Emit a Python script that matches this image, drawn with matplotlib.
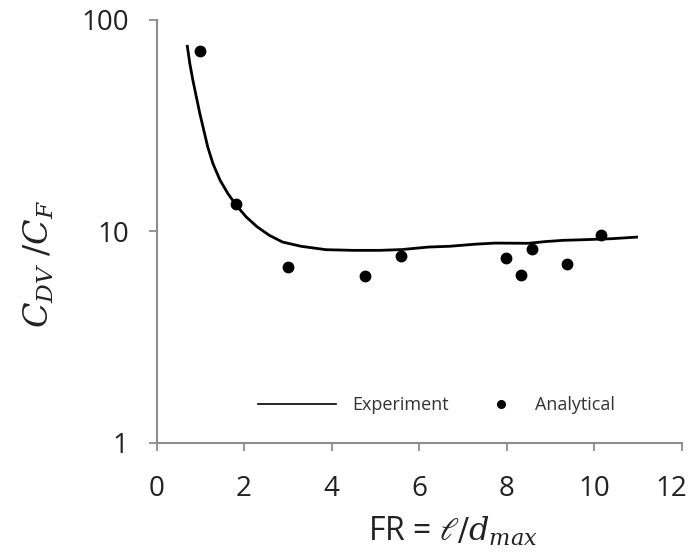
import matplotlib
matplotlib.use("Agg")
import matplotlib.pyplot as plt
from matplotlib.lines import Line2D
from matplotlib.transforms import ScaledTranslation
from matplotlib.ticker import FixedLocator, NullLocator, FixedFormatter

# Experimental drag ratio curve, read along the measured trend
exp_fr = [0.70, 0.76, 0.83, 0.91, 0.99, 1.08, 1.17, 1.29, 1.45, 1.63, 1.82,
          2.05, 2.30, 2.58, 2.88, 3.3, 3.87, 4.5, 5.1, 5.6, 6.22, 6.7,
          7.3, 7.74, 8.5, 8.9, 9.3, 9.7, 10.4, 11.0]
exp_ratio = [76.2, 62.4, 52.0, 43.3, 36.1, 30.1, 25.1, 20.9, 17.5, 15.1, 13.3,
             11.7, 10.5, 9.57, 8.9, 8.5, 8.19, 8.13, 8.13, 8.2, 8.43, 8.5,
             8.7, 8.8, 8.78, 8.95, 9.07, 9.12, 9.23, 9.4]

# Analytical predictions
ana_fr = [0.99, 1.81, 3.00, 4.76, 5.58, 7.98, 8.34, 8.59, 9.38, 10.15]
ana_ratio = [71.6, 13.5, 6.76, 6.15, 7.64, 7.45, 6.20, 8.28, 6.98, 9.61]

x_ticks = [0, 2, 4, 6, 8, 10, 12]
y_ticks = [1, 10, 100]
y_tick_labels = ["1", "10", "100"]

plt.rcParams["font.family"] = ["Open Sans", "DejaVu Sans"]
plt.rcParams["mathtext.fontset"] = "dejavuserif"

text_color = "#222222"
axis_color = "#8c8c8c"

fig = plt.figure(figsize=(6.91, 5.54), dpi=100)
ax = fig.add_axes([0.2265, 0.2009, 0.760, 0.763])

ax.plot(exp_fr, exp_ratio, color="black", linewidth=2.0, solid_capstyle="butt",
        solid_joinstyle="round")
ax.plot(ana_fr, ana_ratio, "o", color="black", markersize=7.5, linestyle="none")

ax.set_yscale("log")
ax.set_xlim(0, 12)
ax.set_ylim(1, 100)
ax.xaxis.set_major_locator(FixedLocator(x_ticks))
ax.yaxis.set_major_locator(FixedLocator(y_ticks))
ax.yaxis.set_major_formatter(FixedFormatter(y_tick_labels))
ax.yaxis.set_minor_locator(NullLocator())

for side in ("top", "right"):
    ax.spines[side].set_visible(False)
for side in ("left", "bottom"):
    ax.spines[side].set_color(axis_color)
    ax.spines[side].set_linewidth(1.5)

ax.tick_params(axis="both", colors=axis_color, labelcolor=text_color,
               labelsize=20, length=6, width=1.3)
ax.tick_params(axis="x", pad=17)
ax.tick_params(axis="y", pad=14)

# last x label sits just inside the figure edge
fig.canvas.draw()
last = ax.get_xticklabels()[-1]
last.set_transform(last.get_transform()
                   + ScaledTranslation(-10 / 100, 0, fig.dpi_scale_trans))

ax.set_xlabel(r"FR = $\ell/d_{max}$", fontsize=23, color=text_color)
ax.xaxis.set_label_coords(0.564, -0.172)
ax.set_ylabel(r"$C_{DV}\ /C_F$", fontsize=24, color=text_color)
ax.yaxis.set_label_coords(-0.19, 0.424)

# two separate legend entries so each handle gets its own length
exp_handle = Line2D([], [], color="black", linewidth=1.2)
ana_handle = Line2D([], [], color="black", marker="o", markersize=5.5,
                    linestyle="none")
leg_kw = dict(frameon=False, fontsize=13, borderpad=0, borderaxespad=0,
              labelcolor="#333333", loc="center left",
              bbox_transform=fig.transFigure)
leg1 = ax.legend([exp_handle], ["Experiment"], handlelength=4.3,
                 handletextpad=0.9, bbox_to_anchor=(258 / 691, 149 / 554),
                 **leg_kw)
ax.add_artist(leg1)
ax.legend([ana_handle], ["Analytical"], handlelength=1.2, handletextpad=1.3,
          bbox_to_anchor=(490 / 691, 149 / 554), **leg_kw)

fig.savefig("out.png", dpi=100)
